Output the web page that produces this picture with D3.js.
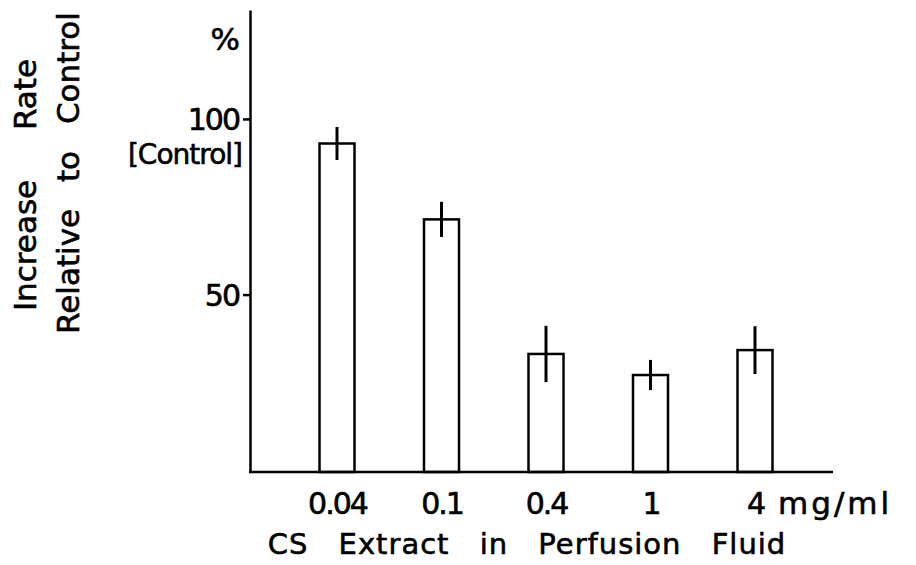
<!DOCTYPE html>
<html>
<head>
<meta charset="utf-8">
<script src="https://cdn.jsdelivr.net/npm/d3@7"></script>
<style>
  body { margin: 0; background: #fff; }
  svg { display: block; font-family: "DejaVu Sans", sans-serif; }
  svg text { fill: #000; stroke: #000; stroke-width: 0.6px; }
</style>
</head>
<body>
<svg width="916" height="565"></svg>
<script>
// data
const doses = ["0.04", "0.1", "0.4", "1", "4"]
const rates = [93, 71.4, 33.1, 27.1, 34.2]
const errors = [4.7, 5, 8, 4.3, 6.8]
const yTicks = [50, 100]

const ink = "#000"
const svg = d3.select("svg")

// scales
const x = d3.scalePoint()
  .domain(doses)
  .range([337, 755])

const y = d3.scaleLinear()
  .domain([-0.5, 131])
  .range([472, 10])

const barW = 35

// y axis
const yAxis = svg.append("g")
  .attr("transform", "translate(250,0)")
  .call(d3.axisLeft(y).tickValues(yTicks).tickSize(7).tickSizeOuter(0).tickPadding(4))
yAxis.select(".domain").attr("stroke", ink).attr("stroke-width", 2.5)
yAxis.selectAll(".tick line").attr("stroke", ink).attr("stroke-width", 2.5)
yAxis.selectAll(".tick text")
  .attr("font-family", "DejaVu Sans")
  .attr("font-size", 30)
  .attr("letter-spacing", -2)
  .attr("dy", "0.36em")

// x axis
svg.append("line")
  .attr("x1", 249).attr("x2", 833)
  .attr("y1", y(-0.5)).attr("y2", y(-0.5))
  .attr("stroke", ink).attr("stroke-width", 2.5)

const xAxis = svg.append("g")
  .attr("transform", `translate(0,${y(-0.5)})`)
  .call(d3.axisBottom(x).tickSize(0).tickPadding(21))
xAxis.select(".domain").remove()
xAxis.selectAll(".tick text")
  .attr("font-family", "DejaVu Sans")
  .attr("font-size", 30)
  .attr("letter-spacing", -2)

// bars
svg.append("g").selectAll("rect")
  .data(doses)
  .join("rect")
  .attr("x", (d) => x(d) - barW / 2)
  .attr("y", (d, i) => y(rates[i]))
  .attr("width", barW)
  .attr("height", (d, i) => y(-0.5) - y(rates[i]))
  .attr("fill", "none")
  .attr("stroke", ink)
  .attr("stroke-width", 2.5)

// error bars
svg.append("g").selectAll("line")
  .data(doses)
  .join("line")
  .attr("x1", (d) => x(d)).attr("x2", (d) => x(d))
  .attr("y1", (d, i) => y(rates[i] + errors[i]))
  .attr("y2", (d, i) => y(rates[i] - errors[i]))
  .attr("stroke", ink)
  .attr("stroke-width", 3)

// labels
svg.append("text")
  .attr("x", 240).attr("y", 50)
  .attr("text-anchor", "end")
  .attr("font-size", 31)
  .text("%")

svg.append("text")
  .attr("x", 242).attr("y", 164)
  .attr("text-anchor", "end")
  .attr("font-size", 28)
  .attr("letter-spacing", -1)
  .text("[Control]")

svg.append("text")
  .attr("x", 778).attr("y", 514)
  .attr("font-size", 31)
  .attr("letter-spacing", 3)
  .text("mg/ml")

svg.append("text")
  .attr("x", 527).attr("y", 554)
  .attr("text-anchor", "middle")
  .attr("font-size", 29)
  .attr("letter-spacing", 1)
  .attr("word-spacing", 20)
  .text("CS Extract in Perfusion Fluid")

svg.append("text")
  .attr("transform", "translate(36,185) rotate(-90)")
  .attr("text-anchor", "middle")
  .attr("font-size", 31)
  .attr("word-spacing", 40)
  .text("Increase Rate")

svg.append("text")
  .attr("transform", "translate(79,173) rotate(-90)")
  .attr("text-anchor", "middle")
  .attr("font-size", 31)
  .attr("word-spacing", 17)
  .text("Relative to Control")
</script>
</body>
</html>
